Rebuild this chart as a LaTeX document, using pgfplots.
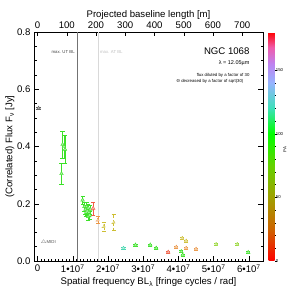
\documentclass[border=0pt]{standalone}
\usepackage{fontspec}
\setmainfont{Liberation Sans}
\usepackage{pgfplots}
\pgfplotsset{compat=1.18}
\usetikzlibrary{calc}
\definecolor{cgreen}{RGB}{60,225,40}
\definecolor{cred}{RGB}{240,95,70}
\definecolor{corange}{RGB}{235,150,70}
\definecolor{cyellow}{RGB}{205,190,50}
\definecolor{cyg}{RGB}{150,215,50}
\definecolor{ccyan}{RGB}{70,215,175}
\definecolor{cgray}{RGB}{95,95,95}
\newcommand{\lab}{\fontsize{9.6}{11}\selectfont}
\newcommand{\tin}{\fontsize{4.3}{5}\selectfont}
\pgfplotsset{
  dat/.style={only marks, mark=triangle*, mark size=2.1pt,
    mark options={fill=#1!45, draw=#1, line width=0.4pt}, color=#1,
    error bars/.cd, y dir=both, y explicit,
    error bar style={line width=0.45pt, color=#1}},
}
\begin{document}
\begin{tikzpicture}
\begin{axis}[
  name=main,
  scale only axis, width=229pt, height=229pt,
  xmin=-0.1e7, xmax=6.4e7, ymin=0, ymax=0.8,
  xtick={0,1e7,2e7,3e7,4e7,5e7,6e7},
  xticklabels={0,1•10\textsuperscript{7},2•10\textsuperscript{7},3•10\textsuperscript{7},4•10\textsuperscript{7},5•10\textsuperscript{7},6•10\textsuperscript{7}},
  scaled x ticks=false,
  minor x tick num=9,
  xtick pos=bottom,
  ytick={0,0.2,0.4,0.6,0.8},
  minor y tick num=3,
  yticklabel style={/pgf/number format/.cd, fixed, fixed zerofill, precision=1},
  /pgf/number format/assume math mode=true,
  tick align=inside,
  major tick length=5pt, minor tick length=2.5pt,
  tick style={color=black, line width=0.4pt},
  tick label style={font=\lab},
  label style={font=\lab},
  xlabel={Spatial frequency BL\textsubscript{λ} [fringe cycles / rad]},
  ylabel={(Correlated) Flux F\textsubscript{ν} [Jy]},
  xlabel style={yshift=2pt},
  ylabel style={yshift=-4pt},
  axis line style={line width=0.4pt},
  colormap={pa}{rgb255(0cm)=(255,0,0) rgb255(25cm)=(205,100,0) rgb255(50cm)=(160,160,0) rgb255(75cm)=(100,210,0) rgb255(100cm)=(0,255,0) rgb255(120cm)=(60,225,185) rgb255(140cm)=(150,180,255) rgb255(155cm)=(190,130,240) rgb255(168cm)=(240,90,170) rgb255(180cm)=(255,0,0)},
  point meta min=0, point meta max=180,
  colorbar,
  colorbar style={
    at={(parent axis.north east)}, anchor=north west, xshift=-3pt,
    width=6pt,
    ytick={0,50,100,150}, minor y tick num=4,
    yticklabels={}, 
    major tick length=2pt, minor tick length=1pt,
    tick align=outside, ytick pos=right,
    axis line style={draw=none},
  },
  clip=false,
]
% vertical baseline markers
\addplot[color=black!55, line width=0.6pt] coordinates {(1.12e7,0) (1.12e7,0.8)};
\addplot[color=black!15, line width=0.6pt] coordinates {(1.72e7,0) (1.72e7,0.8)};
\node[anchor=east, font=\tin, text=black!75, inner sep=0pt] at (axis cs:1.06e7,0.731) {max. UT BL};
\node[anchor=west, font=\tin, text=black!25, inner sep=0pt] at (axis cs:1.77e7,0.731) {max. AT BL};
% annotations
\node[anchor=east, font=\fontsize{9.6}{11}\selectfont, inner sep=0pt] at (axis cs:6.02e7,0.734) {NGC 1068};
\node[anchor=east, font=\fontsize{5.5}{6}\selectfont, inner sep=0pt] at (axis cs:6.02e7,0.692) {λ = 12.05µm};
\node[anchor=east, font=\tin, inner sep=0pt] at (axis cs:6.02e7,0.647) {flux diluted by a factor of 30};
\node[anchor=east, font=\tin, inner sep=0pt] at (axis cs:5.85e7,0.629) {Θ decreased by a factor of sqrt(30)};
\node[anchor=west, font=\tin, text=black!70, inner sep=0pt] at (axis cs:0.08e7,0.066) {$\triangle$MIDI};
% colorbar labels
\node[anchor=west, font=\tin, inner sep=0pt] at (axis cs:6.76e7,0) {0};
\node[anchor=west, font=\tin, inner sep=0pt] at (axis cs:6.76e7,0.2222) {50};
\node[anchor=west, font=\tin, inner sep=0pt] at (axis cs:6.76e7,0.4444) {100};
\node[anchor=west, font=\tin, inner sep=0pt] at (axis cs:6.76e7,0.6667) {150};
\node[font=\tin, rotate=90, inner sep=0pt] at (axis cs:7.02e7,0.39) {PA};
% data
\addplot+[dat=cgray] coordinates {(0.03e7,0.534) +- (0,0.002)};
\addplot+[dat=cgreen] coordinates {
(0.71e7,0.407) +- (0,0.048)
(0.78e7,0.390) +- (0,0.050)
(0.75e7,0.400) +- (0,0.040)
(0.68e7,0.305) +- (0,0.038)
(1.28e7,0.213) +- (0,0.014)
(1.33e7,0.190) +- (0,0.015)
(1.36e7,0.180) +- (0,0.015)
(1.38e7,0.170) +- (0,0.014)
(1.39e7,0.190) +- (0,0.016)
(1.41e7,0.175) +- (0,0.015)
(1.44e7,0.185) +- (0,0.015)
(1.44e7,0.155) +- (0,0.012)
(1.46e7,0.170) +- (0,0.014)
(1.48e7,0.160) +- (0,0.014)
(1.50e7,0.180) +- (0,0.015)
(2.78e7,0.056) +- (0,0.003)
(3.20e7,0.056) +- (0,0.003)
(3.37e7,0.045) +- (0,0.003)
(4.08e7,0.033) +- (0,0.003)
(4.12e7,0.021) +- (0,0.003)
(5.98e7,0.030) +- (0,0.003)
};
\addplot+[dat=cred] coordinates {
(1.58e7,0.184) +- (0,0.023)
(3.71e7,0.031) +- (0,0.003)
};
\addplot+[dat=corange] coordinates {
(1.71e7,0.143) +- (0,0.012)
(3.94e7,0.049) +- (0,0.003)
(4.22e7,0.045) +- (0,0.003)
(4.50e7,0.042) +- (0,0.003)
};
\addplot+[dat=cyellow] coordinates {
(1.88e7,0.120) +- (0,0.015)
(2.16e7,0.134) +- (0,0.028)
(4.11e7,0.079) +- (0,0.003)
(4.22e7,0.070) +- (0,0.003)
};
\addplot+[dat=cyg] coordinates {
(5.07e7,0.058) +- (0,0.003)
(5.67e7,0.058) +- (0,0.003)
};
\addplot+[dat=ccyan] coordinates {
(2.44e7,0.045) +- (0,0.003)
};
\end{axis}
\begin{axis}[
  scale only axis, width=229pt, height=229pt,
  at={(main.south west)}, anchor=south west,
  xmin=-12.05, xmax=771.2, ymin=0, ymax=1,
  xtick={0,100,...,700},
  xtick pos=top, xticklabel pos=top,
  hide y axis,
  tick align=inside, major tick length=4pt,
  tick style={color=black, line width=0.4pt},
  /pgf/number format/assume math mode=true,
  tick label style={font=\lab},
  xlabel={Projected baseline length [m]},
  xlabel style={font=\lab, yshift=-5pt},
  axis line style={draw=none},
]
\end{axis}
\pgfresetboundingbox
\path ($(main.south west)+(-34pt,-33pt)$) rectangle ($(main.north east)+(36pt,32pt)$);
\end{tikzpicture}
\end{document}
